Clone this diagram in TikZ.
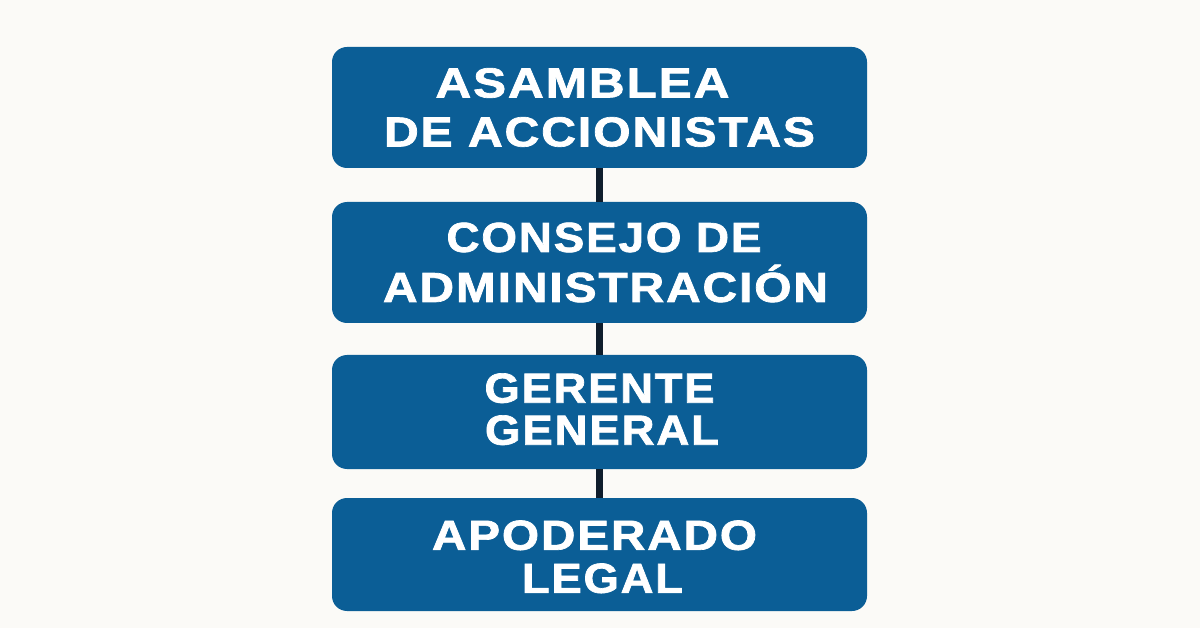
\documentclass[tikz,border=0pt]{standalone}
\usepackage{graphicx}
\usepackage{fontspec}
\setmainfont{Liberation Sans}
\newfontfamily\boxfont{Liberation Sans Bold}[FakeBold=1.6,LetterSpace=4]
\definecolor{boxblue}{HTML}{0B5E96}
\definecolor{bgcol}{HTML}{FBFAF7}
\definecolor{linkcol}{HTML}{0F1D2C}
\newlength\fitw
\newcommand\fitline[2]{\settowidth\fitw{#2}\pgfmathsetmacro\fitr{#1/\fitw}\scalebox{\fitr}[1]{#2}}
\begin{document}
\begin{tikzpicture}[x=1pt,y=-1pt,
  orgbox/.style={fill=boxblue, rounded corners=15pt, minimum width=535pt,
    text=white, align=center, inner sep=0pt},
  linkline/.style={draw=linkcol, line width=7.5pt}]
\fill[bgcol] (0,0) rectangle (1200,628);
\useasboundingbox (0,0) rectangle (1200,628);

\node[orgbox, minimum height=121pt, font={\boxfont\fontsize{42}{49}\selectfont}]
  (asamblea) at (599.5,107.5)
  {\fitline{294}{ASAMBLEA}\hspace*{34pt}\\\fitline{431}{DE ACCIONISTAS}};
\node[orgbox, minimum height=121pt, font={\boxfont\fontsize{42}{50}\selectfont}]
  (consejo) at (599.5,262.5)
  {\hspace*{9pt}\fitline{315}{CONSEJO DE}\\\hspace*{12pt}\fitline{445}{ADMINISTRACIÓN}};
\node[orgbox, minimum height=114pt, font={\boxfont\fontsize{42}{42}\selectfont}]
  (gerente) at (599.5,412)
  {\fitline{230}{GERENTE}\\\hspace*{5pt}\fitline{234}{GENERAL}\rule[-6pt]{0pt}{6pt}};
\node[orgbox, minimum height=113pt, font={\boxfont\fontsize{42}{43}\selectfont}]
  (apoderado) at (599.5,554.5)
  {\rule{0pt}{34pt}\fitline{325}{APODERADO}\hspace*{10pt}\\\hspace*{6pt}\fitline{161}{LEGAL}};

\draw[linkline] (asamblea.south) -- (consejo.north);
\draw[linkline] (consejo.south) -- (gerente.north);
\draw[linkline] (gerente.south) -- (apoderado.north);
\end{tikzpicture}
\end{document}
